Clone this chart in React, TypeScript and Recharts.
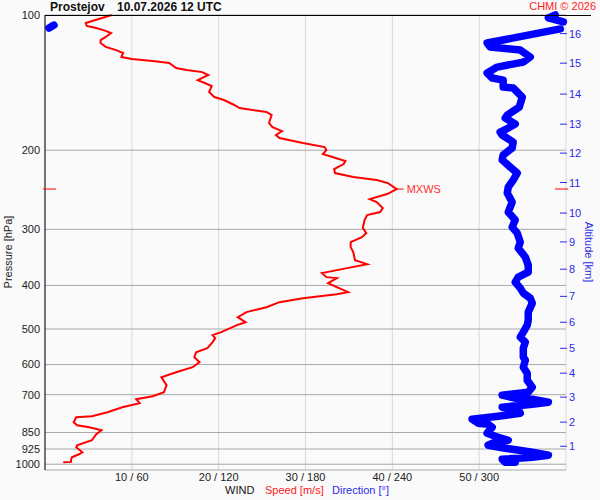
import { LineChart, Line, XAxis, YAxis, CartesianGrid, ReferenceDot } from 'recharts';

// axes
const pressureTicks = [100, 200, 300, 400, 500, 600, 700, 850, 925, 1000];
const speedTicks = [10, 20, 30, 40, 50, 60];
const speedTickLabels = ['10 / 60', '20 / 120', '30 / 180', '40 / 240', '50 / 300', ''];
const altitudeKm = [1, 2, 3, 4, 5, 6, 7, 8, 9, 10, 11, 12, 13, 14, 15, 16];
const altitudePressure = [912, 806, 709, 627, 552, 483, 423, 368, 320, 276, 236, 203, 175, 150, 128, 110];

// wind speed [m/s] by pressure [hPa]
const speedProfile = [
  [100, 7.7], [104.2, 4.7], [105.8, 4.8], [106.9, 5.9], [108.5, 7.0], [109.7, 7.6], [111.9, 7.0],
  [113.7, 6.4], [115.4, 6.4], [117.8, 7.0], [119.7, 8.2], [121.5, 9.0], [124.0, 8.8], [125.3, 10.0],
  [126.6, 12.4], [127.9, 14.3], [131.2, 15.1], [132.6, 16.3], [134.0, 18.1], [136.0, 18.8],
  [139.6, 17.6], [141.7, 18.4], [143.9, 19.2], [148.4, 18.9], [152.3, 19.5], [154.6, 20.6],
  [158.6, 21.8], [161.1, 22.4], [164.4, 25.5], [167.0, 26.1], [174.0, 25.8], [177.6, 26.2],
  [181.3, 27.3], [185.0, 26.6], [187.9, 27.0], [192.8, 29.7], [196.8, 32.2], [199.8, 32.4],
  [204.0, 32.0], [207.1, 33.1], [211.4, 34.6], [214.7, 34.4], [220.3, 33.3], [224.8, 33.4],
  [229.5, 35.5], [233.0, 38.2], [236.7, 39.5], [244.1, 40.5], [250.4, 39.4], [256.9, 37.4],
  [260.9, 38.2], [269.0, 38.9], [274.6, 38.6], [278.9, 37.1], [286.1, 36.8], [298.1, 36.6],
  [305.8, 37.0], [312.2, 36.5], [320.3, 35.2], [328.6, 35.2], [337.2, 35.5], [351.3, 35.7],
  [358.6, 37.1], [366.0, 34.8], [375.5, 31.9], [383.3, 32.4], [385.2, 33.6], [395.2, 32.6],
  [403.4, 33.6], [413.9, 34.9], [418.2, 33.6], [426.9, 29.7], [435.7, 27.0], [447.1, 25.5],
  [458.6, 23.2], [470.6, 22.2], [482.8, 23.1], [490.2, 22.1], [508.1, 20.3], [516.0, 19.3],
  [524.0, 19.6], [534.9, 19.3], [551.6, 18.7], [563.1, 17.4], [577.7, 17.2], [592.7, 17.8],
  [608.1, 17.0], [623.9, 15.1], [640.1, 13.4], [666.9, 14.0], [691.3, 13.7], [705.6, 12.4],
  [716.6, 10.5], [731.4, 10.9], [746.5, 8.9], [766.0, 7.2], [781.8, 5.4], [785.8, 3.6],
  [806.2, 3.3], [818.7, 3.7], [827.2, 5.1], [840.0, 6.5], [857.4, 5.9], [884.2, 5.4],
  [907.2, 3.7], [916.6, 3.6], [940.4, 4.3], [950.1, 3.9], [964.9, 3.1], [979.8, 3.0],
  [988, 3.0], [990, 2.1],
].map(([p, s]) => ({ p, s }));

// wind direction [deg] by pressure [hPa]
const directionTop = [
  [100, 352.6], [101.5, 347.8], [103.6, 358.2],
].map(([p, d]) => ({ p, d }));

const directionWrap = [
  [105.3, 6.2], [106.9, 2.8],
].map(([p, d]) => ({ p, d }));

const directionProfile = [
  [107.4, 356.1], [115.4, 305.5], [117.8, 307.6], [119.7, 328.4], [124.0, 335.3], [127.3, 330.5],
  [130.6, 312.5], [134.6, 305.5], [138.1, 309.0], [139.6, 316.6], [144.7, 316.6], [145.4, 323.5],
  [148.4, 326.3], [152.3, 329.8], [160.3, 327.7], [167.0, 319.4], [169.6, 318.0], [174.9, 324.9],
  [178.5, 320.1], [182.2, 314.5], [185.0, 315.9], [191.8, 323.5], [197.8, 322.8], [205.0, 316.6],
  [210.3, 315.9], [218.0, 321.5], [224.8, 326.3], [233.0, 323.5], [241.6, 320.1], [249.1, 319.4],
  [260.9, 322.8], [274.6, 320.1], [286.1, 324.9], [296.6, 322.8], [305.8, 326.3], [320.3, 328.4],
  [330.3, 327.0], [345.9, 331.9], [360.4, 333.9], [373.6, 333.9], [383.3, 327.0], [393.2, 324.9],
  [405.5, 328.4], [416.1, 330.5], [426.9, 335.3], [437.9, 336.7], [458.6, 333.9], [477.8, 333.9],
  [490.2, 333.2], [508.1, 330.5], [521.4, 328.4], [534.9, 331.9], [551.6, 330.5], [577.7, 330.5],
  [586.6, 331.9], [608.1, 330.5], [627.2, 333.2], [650.1, 333.2], [673.8, 336.7], [691.3, 333.9],
  [702.0, 315.9], [712.9, 324.9], [716.6, 336.7], [727.7, 347.8], [735.1, 336.7], [746.5, 315.9],
  [754.2, 327.0], [769.9, 328.4], [781.8, 313.1], [793.9, 295.1], [810.3, 299.3], [814.5, 306.2],
  [827.2, 309.0], [853.1, 305.5], [866.2, 311.1], [884.2, 320.1], [898.0, 309.0], [907.2, 306.2],
  [921.2, 318.0], [940.4, 336.7], [955.0, 347.8], [964.9, 336.7], [974.8, 315.9], [989.9, 318.0],
  [990, 324.9],
].map(([p, d]) => ({ p, d }));

const maxWind = { p: 244, s: 40.5 };

const FONT = '"Liberation Sans", Arial, sans-serif';
const BLUE = '#0000ff';
const LABEL_BLUE = '#2a2ae8';
const RED = '#ff0000';

const AltitudeTick = (props: any) => {
  const { x, y, payload } = props;
  const km = altitudeKm[altitudePressure.indexOf(payload.value)];
  return (
    <g>
      <line x1={x - 6} x2={x + 1} y1={y} y2={y} stroke={LABEL_BLUE} />
      <text x={x + 3} y={y + 4} fontSize={11} fill={LABEL_BLUE}>{km}</text>
    </g>
  );
};

const MaxWindMark = (props: any) => (
  <g>
    <line x1={props.cx} x2={props.cx + 7} y1={props.cy} y2={props.cy} stroke={RED} />
    <text x={props.cx + 10} y={props.cy + 4} fontSize={11} fill="#ff3030">MXWS</text>
  </g>
);

const LeftMark = (props: any) => (
  <line x1={props.cx - 2} x2={props.cx + 11} y1={props.cy} y2={props.cy} stroke={RED} />
);

const RightMark = (props: any) => (
  <line x1={props.cx - 11} x2={props.cx + 2} y1={props.cy} y2={props.cy} stroke={RED} />
);

const blueStroke = {
  xAxisId: 'dir',
  dataKey: 'd',
  type: 'linear' as const,
  stroke: BLUE,
  strokeWidth: 7.5,
  strokeLinecap: 'round' as const,
  strokeLinejoin: 'round' as const,
  dot: false,
  isAnimationActive: false,
};

export default function App() {
  return (
    <div style={{ position: 'absolute', left: 0, top: 0, width: 600, height: 500, background: '#fafafa', fontFamily: FONT }}>
      <LineChart
        width={600}
        height={500}
        layout="vertical"
        margin={{ top: 15, right: 0, bottom: 0, left: 0 }}
      >
        <CartesianGrid horizontal={false} stroke="#d8d8d8" />
        <CartesianGrid vertical={false} stroke="#a8a8a8" />
        <XAxis
          type="number"
          domain={[0, 60]}
          ticks={speedTicks}
          interval={0}
          height={30}
          tickFormatter={(v) => speedTickLabels[speedTicks.indexOf(v)]}
          axisLine={false}
          tickLine={false}
          tickSize={0}
          tickMargin={3}
          tick={{ fontSize: 11, fill: '#222' }}
        />
        <XAxis xAxisId="dir" type="number" domain={[0, 360]} hide />
        <YAxis
          dataKey="p"
          type="number"
          scale="log"
          domain={[100, 1030]}
          ticks={pressureTicks}
          interval={0}
          width={45}
          axisLine={{ stroke: '#000' }}
          tickLine={false}
          tickSize={0}
          tickMargin={5}
          tick={{ fontSize: 11, fill: '#222' }}
        />
        <YAxis
          yAxisId="alt"
          orientation="right"
          dataKey="p"
          type="number"
          scale="log"
          domain={[100, 1030]}
          allowDataOverflow
          ticks={altitudePressure}
          interval={0}
          width={34}
          axisLine={false}
          tickLine={false}
          tickSize={0}
          tickMargin={0}
          tick={AltitudeTick}
        />
        <Line {...blueStroke} data={directionTop} />
        <Line {...blueStroke} data={directionWrap} />
        <Line {...blueStroke} data={directionProfile} />
        <Line data={directionProfile} yAxisId="alt" xAxisId="dir" dataKey="d" stroke="none" dot={false} legendType="none" isAnimationActive={false} />
        <Line data={speedProfile} dataKey="s" type="linear" stroke={RED} strokeWidth={2} dot={false} isAnimationActive={false} />
        <ReferenceDot x={maxWind.s} y={maxWind.p} shape={<MaxWindMark />} />
        <ReferenceDot x={0} y={maxWind.p} shape={<LeftMark />} />
        <ReferenceDot x={60} y={maxWind.p} shape={<RightMark />} />
      </LineChart>
      <svg width={600} height={500} style={{ position: 'absolute', left: 0, top: 0, pointerEvents: 'none' }}>
        <line x1={45} x2={591} y1={15.5} y2={15.5} stroke="#000" />
        <text x={50} y={11} fontSize={12} fontWeight="bold" fill="#111">Prostejov</text>
        <text x={117} y={11} fontSize={12} fontWeight="bold" fill="#111">10.07.2026 12 UTC</text>
        <text x={596} y={10} fontSize={11} fill="#ff2020" textAnchor="end">CHMI © 2026</text>
        <text x={12} y={252} fontSize={11} fill="#222" textAnchor="middle" transform="rotate(-90, 12, 252)">Pressure [hPa]</text>
        <text x={585} y={252} fontSize={11} fill={LABEL_BLUE} textAnchor="middle" transform="rotate(90, 585, 252)">Altitude [km]</text>
        <text x={225} y={494} fontSize={11} fill="#111">WIND</text>
        <text x={265} y={494} fontSize={11} fill="#ff2020">Speed [m/s]</text>
        <text x={332} y={494} fontSize={11} fill={LABEL_BLUE}>Direction [°]</text>
      </svg>
    </div>
  );
}
